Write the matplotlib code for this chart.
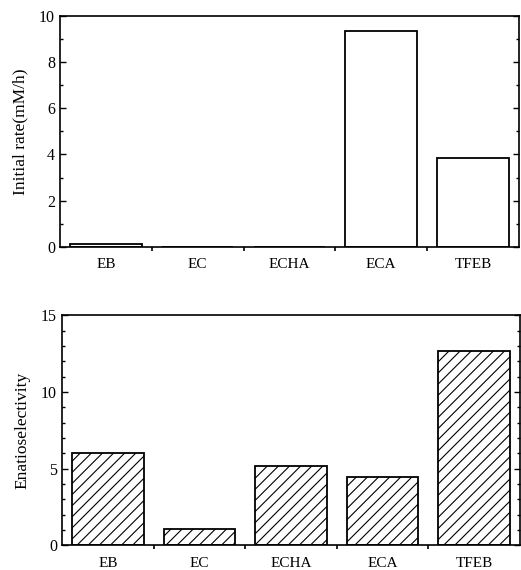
import matplotlib.pyplot as plt
from matplotlib.ticker import MultipleLocator, FixedLocator

categories = ['EB', 'EC', 'ECHA', 'ECA', 'TFEB']
initial_rate = [0.12, 0.0, 0.0, 9.36, 3.83]
selectivity = [6.0, 1.05, 5.15, 4.45, 12.65]

plt.rcParams['font.family'] = ['Liberation Serif', 'DejaVu Serif']
plt.rcParams['hatch.linewidth'] = 0.8

fig = plt.figure(figsize=(5.21, 5.70), dpi=100)
ax1 = fig.add_axes([0.115, 0.567, 0.881, 0.405])
ax2 = fig.add_axes([0.119, 0.043, 0.879, 0.404])

x = list(range(len(categories)))


def style_axes(ax, ymax, major, ylabel):
    ax.set_xlim(-0.5, len(categories) - 0.5)
    ax.set_ylim(0, ymax)
    ax.set_xticks(x)
    ax.set_xticklabels(categories, fontsize=11)
    ax.xaxis.set_minor_locator(FixedLocator([0.5, 1.5, 2.5, 3.5]))
    ax.tick_params(axis='x', which='major', length=0, pad=8)
    ax.tick_params(axis='x', which='minor', direction='out', length=3, width=1.2)
    ax.yaxis.set_major_locator(MultipleLocator(major))
    ax.yaxis.set_minor_locator(MultipleLocator(1))
    ax.tick_params(axis='y', which='both', direction='in', right=True, labelsize=11.5)
    ax.tick_params(axis='y', which='major', length=4, width=1)
    ax.tick_params(axis='y', which='minor', length=2.5, width=1)
    ax.set_ylabel(ylabel, fontsize=12.5, labelpad=8)
    for s in ax.spines.values():
        s.set_linewidth(1.2)


ax1.bar(x, initial_rate, width=0.78, facecolor='white', edgecolor='black', linewidth=1.3)
style_axes(ax1, 10, 2, 'Initial rate(mM/h)')

ax2.bar(x, selectivity, width=0.78, facecolor='white', edgecolor='black', linewidth=1.3, hatch='///')
style_axes(ax2, 15, 5, 'Enatioselectivity')

fig.savefig('out.png', dpi=100)
